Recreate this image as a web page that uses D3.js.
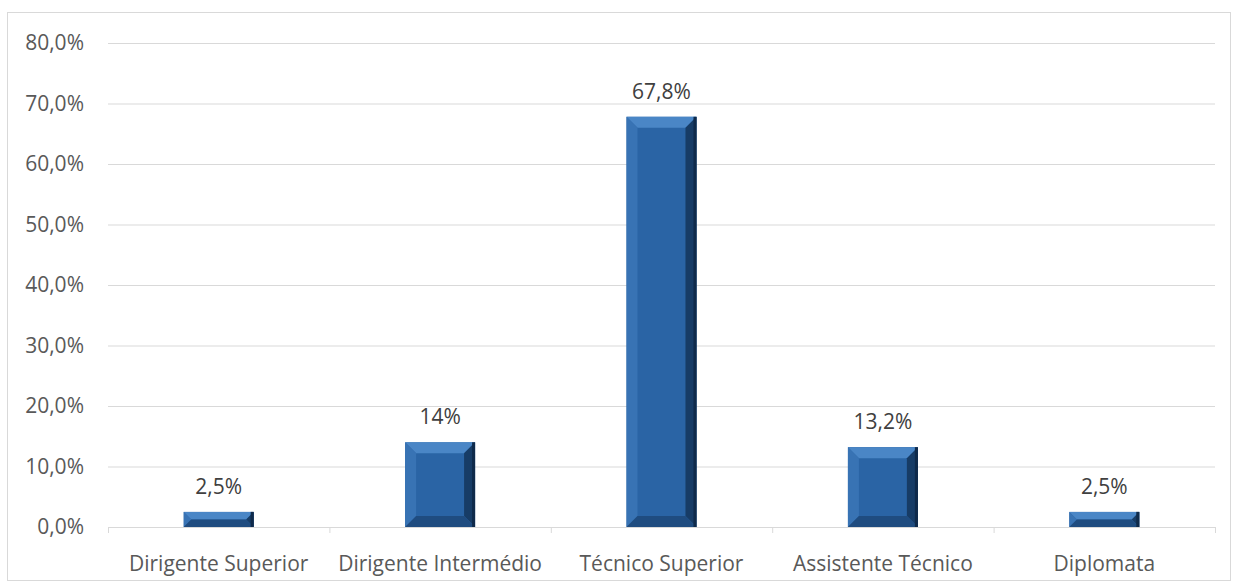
<!DOCTYPE html>
<html>
<head>
<meta charset="utf-8">
<script src="https://cdn.jsdelivr.net/npm/d3@7"></script>
<style>
  body { margin: 0; background: #fff; }
  svg { font-family: "Open Sans", "Liberation Sans", sans-serif; }
</style>
</head>
<body>
<svg width="1233" height="583"></svg>
<script>
// Categorias e valores (%)
const categorias = ["Dirigente Superior", "Dirigente Intermédio", "Técnico Superior", "Assistente Técnico", "Diplomata"];
const valores = [2.5, 14, 67.8, 13.2, 2.5];
const rotulos = ["2,5%", "14%", "67,8%", "13,2%", "2,5%"];
const ticksY = [0, 10, 20, 30, 40, 50, 60, 70, 80];

const dados = categorias.map((c, i) => ({cat: c, v: valores[i], rot: rotulos[i]}));

const svg = d3.select("svg");

// moldura do gráfico
svg.append("rect")
  .attr("x", 7.5).attr("y", 12.5)
  .attr("width", 1223).attr("height", 568)
  .attr("fill", "none").attr("stroke", "#d9d9d9");

const margin = { top: 43, right: 18, bottom: 56, left: 108 };
const width = 1233 - margin.left - margin.right;
const height = 583 - margin.top - margin.bottom;

const g = svg.append("g")
  .attr("transform", `translate(${margin.left},${margin.top})`);

const x = d3.scaleBand()
  .domain(categorias)
  .range([0, width])
  .paddingInner(0.684)
  .paddingOuter(0.342);

const y = d3.scaleLinear()
  .domain([0, 80])
  .range([height, 0]);

// linhas de grade
g.selectAll("line.grid")
  .data(ticksY.filter(t => t > 0))
  .join("line")
  .attr("class", "grid")
  .attr("x1", 0).attr("x2", width)
  .attr("y1", d => y(d) + 0.5).attr("y2", d => y(d) + 0.5)
  .attr("stroke", "#d9d9d9");

// rótulos do eixo Y
g.selectAll("text.ytick")
  .data(ticksY)
  .join("text")
  .attr("class", "ytick")
  .attr("x", -24)
  .attr("y", d => y(d))
  .attr("dy", "0.35em")
  .attr("text-anchor", "end")
  .attr("fill", "#595959")
  .attr("font-size", 21)
  .text(d => d.toFixed(1).replace(".", ",") + "%");

// barras com efeito de bisel
const barras = g.selectAll("g.bar")
  .data(dados)
  .join("g")
  .attr("class", "bar")
  .attr("transform", d => `translate(${x(d.cat)},${y(d.v)})`);

const bw = x.bandwidth();
barras.each(function(d) {
  const h = height - y(d.v);
  const b = Math.min(11, h / 2, bw / 2);
  const s = d3.select(this);
  s.append("rect").attr("width", bw).attr("height", h).attr("fill", "#2a64a5");
  // topo
  s.append("polygon")
    .attr("points", `0,0 ${bw},0 ${bw - b},${b} ${b},${b}`)
    .attr("fill", "#4a86c6");
  // esquerda
  s.append("polygon")
    .attr("points", `0,0 ${b},${b} ${b},${h - b} 0,${h}`)
    .attr("fill", "#3873b4");
  // direita
  s.append("polygon")
    .attr("points", `${bw},0 ${bw},${h} ${bw - b},${h - b} ${bw - b},${b}`)
    .attr("fill", "#173c66");
  // base
  s.append("polygon")
    .attr("points", `0,${h} ${b},${h - b} ${bw - b},${h - b} ${bw},${h}`)
    .attr("fill", "#1f4c80");
  s.append("rect").attr("x", bw - 3).attr("width", 3).attr("height", h).attr("fill", "#0f2a4a");
});

// rótulos de dados
g.selectAll("text.rot")
  .data(dados)
  .join("text")
  .attr("class", "rot")
  .attr("x", d => x(d.cat) + bw / 2)
  .attr("y", d => y(d.v) - 18)
  .attr("text-anchor", "middle")
  .attr("fill", "#404040")
  .attr("font-size", 21)
  .text(d => d.rot);

// eixo X
g.append("line")
  .attr("x1", 0).attr("x2", width)
  .attr("y1", height + 0.5).attr("y2", height + 0.5)
  .attr("stroke", "#d9d9d9");

const fronteiras = d3.range(categorias.length + 1).map(i => i * x.step());
g.selectAll("line.tk")
  .data(fronteiras)
  .join("line")
  .attr("class", "tk")
  .attr("x1", d => d + 0.5).attr("x2", d => d + 0.5)
  .attr("y1", height).attr("y2", height + 6)
  .attr("stroke", "#d9d9d9");

g.selectAll("text.xlab")
  .data(categorias)
  .join("text")
  .attr("class", "xlab")
  .attr("x", d => x(d) + bw / 2)
  .attr("y", height + 44)
  .attr("text-anchor", "middle")
  .attr("fill", "#595959")
  .attr("font-size", 21)
  .text(d => d);
</script>
</body>
</html>
